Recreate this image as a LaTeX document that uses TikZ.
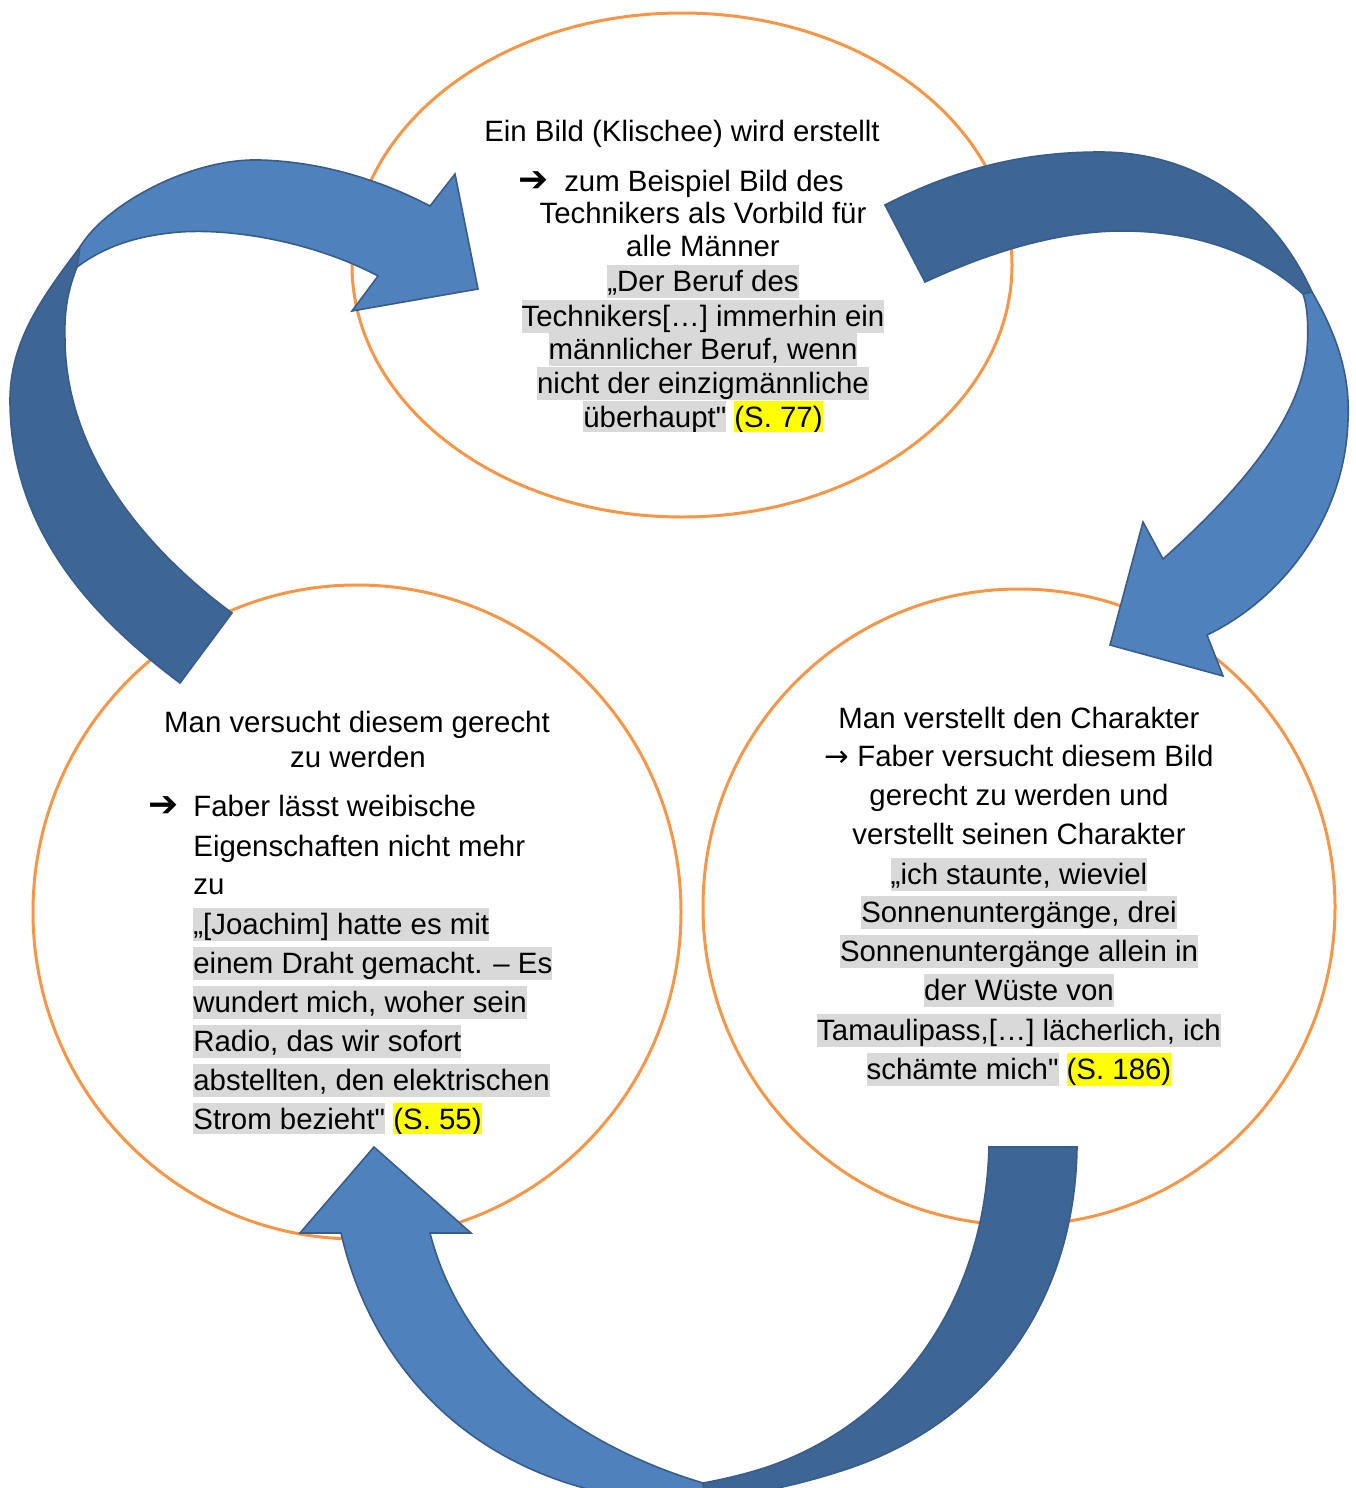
\documentclass[tikz,border=0pt]{standalone}
\usepackage{fontspec}
\setmainfont{Liberation Sans}[Ligatures=TeXOff]
\newfontfamily\symfont{DejaVu Sans}
\definecolor{orng}{HTML}{F79646}
\definecolor{blueL}{HTML}{4F81BD}
\definecolor{blueD}{HTML}{3D6595}
\definecolor{blueB}{HTML}{385D8A}
\definecolor{hlgray}{HTML}{D9D9D9}
\definecolor{hlyel}{HTML}{FFFF00}
\newcommand{\hlstrut}{\rule[-3.6pt]{0pt}{16.6pt}}
\newcommand{\hlg}[1]{{\setlength{\fboxsep}{0pt}\colorbox{hlgray}{\hlstrut#1}}}
\newcommand{\hly}[1]{{\setlength{\fboxsep}{0pt}\colorbox{hlyel}{\hlstrut#1}}}
\newcommand{\bigarr}{{\symfont\bfseries\fontsize{18}{18}\selectfont ➔}}
\newcommand{\thinarr}{{\symfont →}}
\begin{document}
\begin{tikzpicture}[x=0.5pt,y=-0.5pt,
  txt/.style={anchor=base,inner sep=0pt,font=\fontsize{14.7}{17}\selectfont},
  txl/.style={txt,anchor=base west},
  ring/.style={draw=orng,line width=1.5pt},
  arrL/.style={fill=blueL,draw=blueB,line width=0.8pt},
  arrD/.style={fill=blueD,draw=blueB,line width=0.8pt}]
\useasboundingbox (0,0) rectangle (1355,1488);
\fill[white] (0,0) rectangle (1355,1488);

% circles
\draw[ring] (682,265) ellipse [x radius=330, y radius=252];
\draw[ring] (357,912) ellipse [x radius=324, y radius=327];
\draw[ring] (1019,907) ellipse [x radius=316, y radius=318];

% arrow 1 (left, up to top)
\filldraw[arrD] (180,683) -- (232,613)
  .. controls (140,545) and (66,450) .. (65,340)
  .. controls (64,310) and (68,290) .. (77,267)
  -- (80,247)
  .. controls (44,295) and (10,340) .. (10,400)
  .. controls (10,530) and (92,617) .. (180,683) -- cycle;
\filldraw[arrL] (80,247)
  .. controls (105,205) and (190,158) .. (260,160)
  .. controls (330,162) and (390,185) .. (430,206)
  -- (455,174) -- (478,289) -- (352,311) -- (378,276)
  .. controls (320,245) and (240,228) .. (180,232)
  .. controls (130,236) and (100,250) .. (77,267) -- cycle;

% arrow 2 (top right, down)
\filldraw[arrD] (885,205)
  .. controls (961,166) and (1030,152) .. (1100,152)
  .. controls (1190,152) and (1270,200) .. (1312,292)
  -- (1303,294)
  .. controls (1260,255) and (1200,232) .. (1127,231)
  .. controls (1060,230) and (990,252) .. (925,282) -- cycle;
\filldraw[arrL] (1312,292)
  .. controls (1340,340) and (1350,380) .. (1348,420)
  .. controls (1345,520) and (1280,600) .. (1207,635)
  -- (1223,676) -- (1110,645) -- (1143,522) -- (1163,559)
  .. controls (1240,490) and (1300,420) .. (1307,350)
  .. controls (1309,325) and (1307,305) .. (1303,294) -- cycle;

% arrow 3 (bottom)
\filldraw[arrD] (989,1147) -- (1077,1147)
  .. controls (1075,1300) and (990,1420) .. (850,1468)
  .. controls (800,1485) and (750,1495) .. (705,1500)
  -- (703,1483)
  .. controls (725,1479) and (750,1473) .. (770,1466)
  .. controls (900,1420) and (985,1300) .. (989,1147) -- cycle;
\filldraw[arrL] (705,1500)
  .. controls (680,1500) and (640,1498) .. (600,1492)
  .. controls (460,1460) and (370,1360) .. (341,1233)
  -- (300,1233) -- (374,1147) -- (471,1233) -- (430,1233)
  .. controls (460,1350) and (560,1440) .. (703,1483) -- cycle;

% top text
\node[txt] (t1) at (682,141) {Ein Bild (Klischee) wird erstellt};
\node[txt] (t2a) at (534,191) {\bigarr};
\node[txt] (t2) at (704,191) {zum Beispiel Bild des};
\node[txt] (t3) at (703,223) {Technikers als Vorbild für};
\node[txt] (t4) at (703,256) {alle Männer};
\node[txt] (t5) at (703,291) {\hlg{„Der Beruf des}};
\node[txt] (t6) at (703,326) {\hlg{Technikers[…] immerhin ein}};
\node[txt] (t7) at (703,359) {\hlg{männlicher Beruf, wenn}};
\node[txt] (t8) at (703,393) {\hlg{nicht der einzigmännliche}};
\begin{scope}
\clip (400,400) rectangle (1000,431);
\node[txt] (t9) at (703,427) {\hlg{überhaupt"} \hly{(S. 77)}};
\end{scope}

% bottom-left text
\node[txt] (l1) at (357,732) {Man versucht diesem gerecht};
\node[txt] (l2) at (358,767) {zu werden};
\node[txt] (l3a) at (164,816) {\bigarr};
\node[txl] (l3) at (193,816) {Faber lässt weibische};
\node[txl] (l4) at (193,856) {Eigenschaften nicht mehr};
\node[txl] (l5) at (193,894) {zu};
\node[txl] (l6) at (193,934) {\hlg{„[Joachim] hatte es mit}};
\node[txl] (l7) at (193,973) {\hlg{einem Draht gemacht. – Es}};
\node[txl] (l8) at (193,1012) {\hlg{wundert mich, woher sein}};
\node[txl] (l9) at (193,1051) {\hlg{Radio, das wir sofort}};
\node[txl] (l10) at (193,1090) {\hlg{abstellten, den elektrischen}};
\begin{scope}
\clip (150,1095) rectangle (620,1133);
\node[txl] (l11) at (193,1129) {\hlg{Strom bezieht"} \hly{(S. 55)}};
\end{scope}

% bottom-right text
\node[txt] (r1) at (1019,728) {Man verstellt den Charakter};
\node[txt] (r2) at (1019,766) {\thinarr{} Faber versucht diesem Bild};
\node[txt] (r3) at (1019,805) {gerecht zu werden und};
\node[txt] (r4) at (1019,844) {verstellt seinen Charakter};
\node[txt] (r5) at (1019,884) {\hlg{„ich staunte, wieviel}};
\node[txt] (r6) at (1019,922) {\hlg{Sonnenuntergänge, drei}};
\node[txt] (r7) at (1019,961) {\hlg{Sonnenuntergänge allein in}};
\node[txt] (r8) at (1019,1000) {\hlg{der Wüste von}};
\node[txt] (r9) at (1019,1040) {\hlg{Tamaulipass,[…] lächerlich, ich}};
\node[txt] (r10) at (1019,1079) {\hlg{schämte mich"} \hly{(S. 186)}};
\end{tikzpicture}
\end{document}
